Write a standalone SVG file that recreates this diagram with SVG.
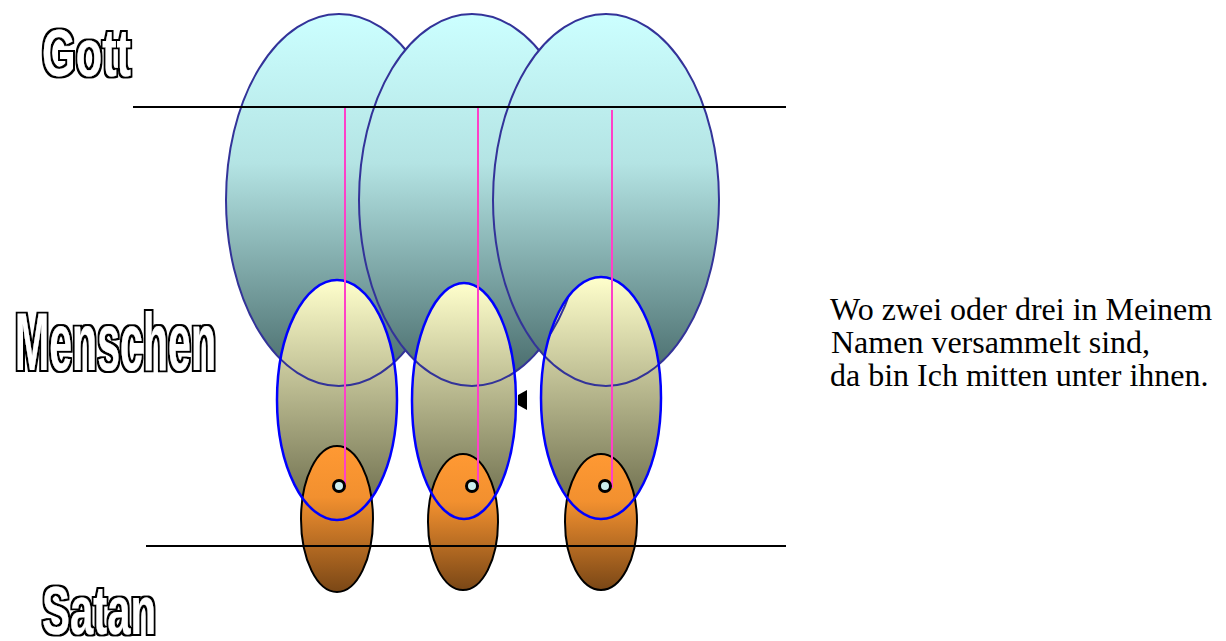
<svg xmlns="http://www.w3.org/2000/svg" width="1226" height="641" viewBox="0 0 1226 641">
<defs>
<linearGradient id="gCyan" x1="0" y1="0" x2="0" y2="1">
<stop offset="0" stop-color="#CCFFFF"/>
<stop offset="0.4" stop-color="#B4E4E4"/>
<stop offset="1" stop-color="#446666"/>
</linearGradient>
<linearGradient id="gYel" x1="0" y1="0" x2="0" y2="1">
<stop offset="0" stop-color="#FFFFCC"/>
<stop offset="1" stop-color="#666647"/>
</linearGradient>
<linearGradient id="gOra" x1="0" y1="0" x2="0" y2="1">
<stop offset="0" stop-color="#FF9933"/>
<stop offset="0.35" stop-color="#F2902F"/>
<stop offset="1" stop-color="#7A4716"/>
</linearGradient>
<clipPath id="yClip">
<ellipse cx="337" cy="400" rx="60" ry="120"/>
<ellipse cx="464" cy="401" rx="52" ry="118"/>
<ellipse cx="601" cy="398" rx="60" ry="121"/>
</clipPath>
<filter id="wordart" x="-10%" y="-20%" width="120%" height="140%">
<feMorphology in="SourceAlpha" operator="dilate" radius="2" result="outer"/>
<feMorphology in="SourceAlpha" operator="dilate" radius="0.4" result="inner"/>
<feFlood flood-color="#ffffff" result="w"/>
<feComposite in="w" in2="inner" operator="in" result="wi"/>
<feMerge><feMergeNode in="outer"/><feMergeNode in="wi"/></feMerge>
</filter>
<style>
.cy{fill:url(#gCyan);stroke:#333399;stroke-width:2}
.cs{fill:none;stroke:#333399;stroke-width:2}
.yf{fill:url(#gYel);stroke:none}
.ys{fill:none;stroke:#0000FF;stroke-width:2.5}
.of{fill:url(#gOra);stroke:#000;stroke-width:2}
.hl{stroke:#000;stroke-width:2}
.pk{stroke:#FF40C8;stroke-width:2}
.dot{fill:#CCEEEE;stroke:#000;stroke-width:3}
.wa{font-family:"Liberation Sans",Arial,sans-serif;font-weight:bold;fill:#000;filter:url(#wordart)}
.tx{font-family:"Liberation Serif","Times New Roman",serif;font-size:32px;fill:#000}
</style>
</defs>
<g id="gott-sphere-1"><ellipse class="cy" cx="339" cy="200" rx="113" ry="186"/></g>
<g id="gott-sphere-2"><ellipse class="cy" cx="472" cy="200" rx="113" ry="186"/></g>
<g id="gott-sphere-3"><ellipse class="cy" cx="606" cy="200" rx="113" ry="186"/></g>
<g id="mensch-fills">
<ellipse class="yf" cx="337" cy="400" rx="60" ry="120"/>
<ellipse class="yf" cx="464" cy="401" rx="52" ry="118"/>
<ellipse class="yf" cx="601" cy="398" rx="60" ry="121"/>
</g>
<g id="gott-outlines-over" clip-path="url(#yClip)">
<ellipse class="cs" cx="339" cy="200" rx="113" ry="186"/>
<ellipse class="cs" cx="472" cy="200" rx="113" ry="186"/>
<ellipse class="cs" cx="606" cy="200" rx="113" ry="186"/>
</g>
<g id="person1"><ellipse class="of" cx="337" cy="519" rx="36" ry="73"/></g>
<g id="person2"><ellipse class="of" cx="463" cy="522" rx="35" ry="68"/></g>
<g id="person3"><ellipse class="of" cx="601" cy="522" rx="36" ry="68"/></g>
<g id="mensch-outlines">
<ellipse class="ys" cx="337" cy="400" rx="60" ry="120"/>
<ellipse class="ys" cx="464" cy="401" rx="52" ry="118"/>
<ellipse class="ys" cx="601" cy="398" rx="60" ry="121"/>
</g>
<g id="connectors">
<line class="hl" x1="133" y1="107" x2="786" y2="107"/>
<line class="hl" x1="146" y1="546" x2="786" y2="546"/>
<line class="pk" x1="345" y1="108" x2="345" y2="488"/>
<line class="pk" x1="478" y1="108" x2="478" y2="488"/>
<line class="pk" x1="612" y1="110" x2="612" y2="488"/>
<polygon points="518,395 527,390 527,410 518,405" fill="#000"/>
</g>
<g id="dots">
<circle class="dot" cx="339" cy="486" r="5.5"/>
<circle class="dot" cx="472" cy="486" r="5.5"/>
<circle class="dot" cx="605" cy="486" r="5.5"/>
</g>
<g id="label-gott">
<text class="wa" x="42" y="76" font-size="67" textLength="89" lengthAdjust="spacingAndGlyphs">Gott</text>
</g>
<g id="label-menschen">
<text class="wa" x="15" y="370" font-size="82" textLength="201" lengthAdjust="spacingAndGlyphs">Menschen</text>
</g>
<g id="label-satan">
<text class="wa" x="42" y="634" font-size="69" textLength="114" lengthAdjust="spacingAndGlyphs">Satan</text>
</g>
<g id="quote">
<text class="tx" x="830" y="320">Wo zwei oder drei in Meinem</text>
<text class="tx" x="831" y="353">Namen versammelt sind,</text>
<text class="tx" x="830" y="386">da bin Ich mitten unter ihnen.</text>
</g>
</svg>
